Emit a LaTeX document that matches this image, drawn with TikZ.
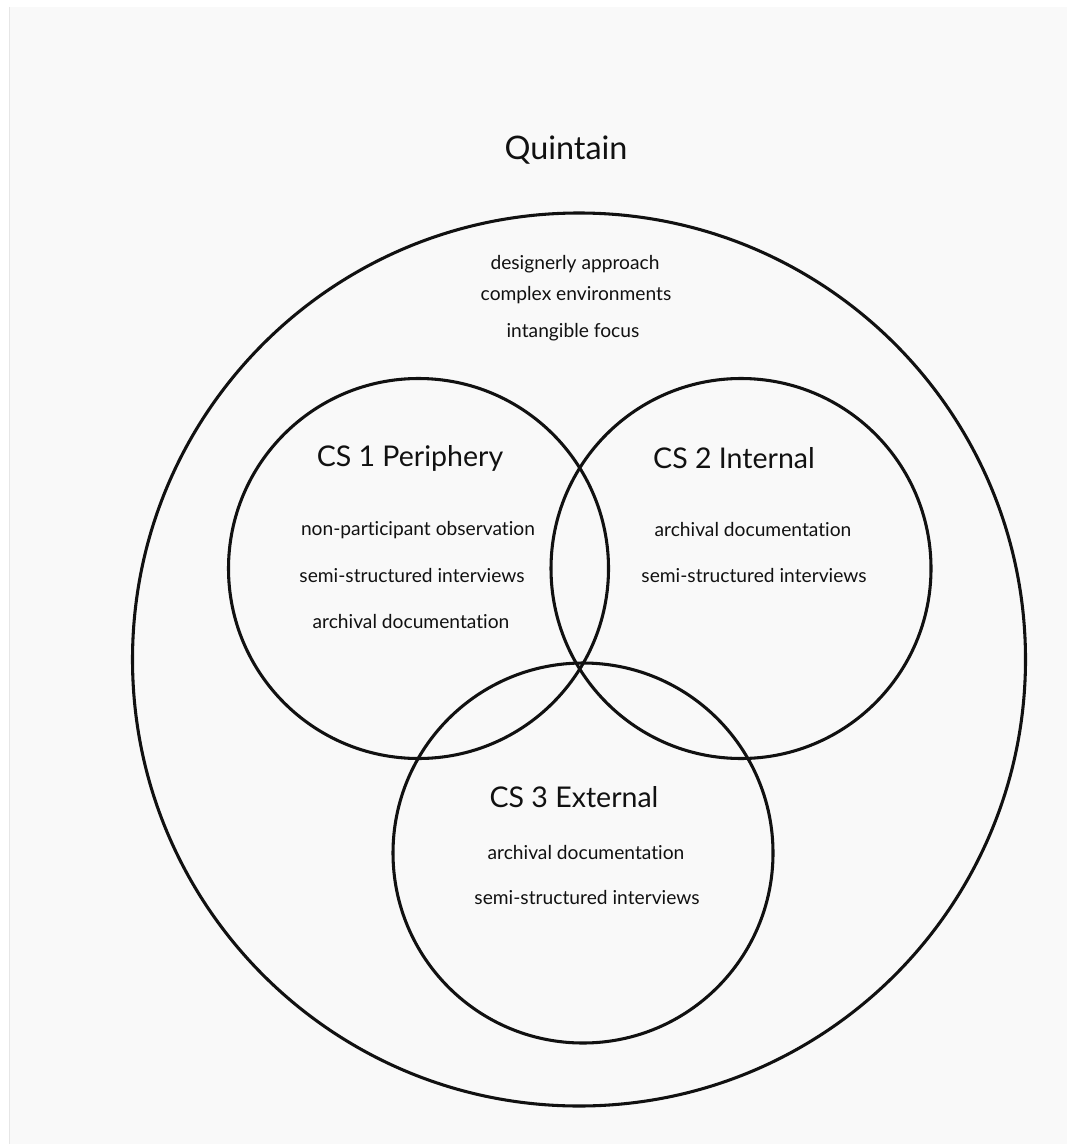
\documentclass[tikz,border=0pt]{standalone}
\usepackage{fontspec}
\setmainfont{Lato}[Ligatures={NoCommon}]
\definecolor{bg}{HTML}{F9F9F9}
\definecolor{edge}{HTML}{E6E6E6}
\definecolor{ink}{HTML}{111111}
\tikzset{
  ring/.style={draw=ink, line width=2.3pt},
  title/.style={font=\fontsize{24.3}{28}\selectfont, text=ink, inner sep=0pt, yshift=-1.5pt},
  head/.style={font=\fontsize{21.4}{25}\selectfont, text=ink, inner sep=0pt, yshift=-1pt},
  item/.style={font=\fontsize{14.4}{17}\selectfont, text=ink, inner sep=0pt, yshift=-1.5pt},
}
\begin{document}
\begin{tikzpicture}[x=0.75pt, y=-0.75pt]
\useasboundingbox (0,0) rectangle (1067,1144);
\fill[white] (0,0) rectangle (1067,1144);
\fill[bg] (10,7) rectangle (1067,1144);
\draw[edge, line width=0.75pt] (9.5,7) -- (9.5,1144);
% circles
\node[ring, circle, minimum size=893*0.75pt, inner sep=0pt] (quintain) at (579,659.5) {};
\node[ring, circle, minimum size=380*0.75pt, inner sep=0pt] (cs1) at (418.5,568.5) {};
\node[ring, circle, minimum size=380*0.75pt, inner sep=0pt] (cs2) at (741,568.5) {};
\node[ring, circle, minimum size=380*0.75pt, inner sep=0pt] (cs3) at (583,853) {};
% texts
\node[title] (tq) at (566,148) {Quintain};
\node[item] (q1) at (575,262) {designerly approach};
\node[item] (q2) at (576,293) {complex environments};
\node[item] (q3) at (573,330) {intangible focus};
\node[head] (h1) at (410,457) {CS 1 Periphery};
\node[item] (a1) at (418,528) {non-participant observation};
\node[item] (a2) at (412,574) {semi-structured interviews};
\node[item] (a3) at (411,620) {archival documentation};
\node[head] (h2) at (734,457) {CS 2 Internal};
\node[item] (b1) at (753,528) {archival documentation};
\node[item] (b2) at (754,574) {semi-structured interviews};
\node[head] (h3) at (574,796) {CS 3 External};
\node[item] (c1) at (586,850) {archival documentation};
\node[item] (c2) at (587,895) {semi-structured interviews};
\end{tikzpicture}
\end{document}
